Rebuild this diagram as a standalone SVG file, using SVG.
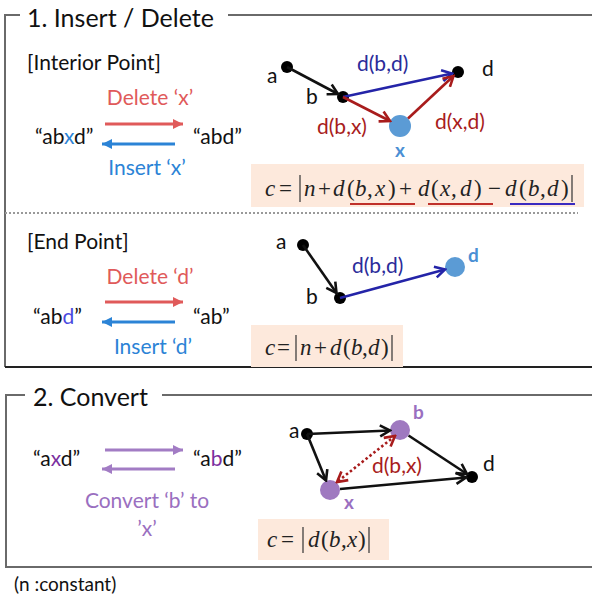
<svg xmlns="http://www.w3.org/2000/svg" width="592" height="600" viewBox="0 0 592 600">
  <style>
    .sans { font-family: Lato, "Open Sans", "Liberation Sans", sans-serif; }
    .title { font-size: 25px; fill: #111; }
    .sub { font-size: 21px; fill: #111; }
    .str { font-size: 21px; fill: #111; }
    .lbl { font-size: 21px; fill: #111; }
    .tag { font-size: 19px; font-weight: bold; }
    .math { font-family: "Liberation Serif", "Times New Roman", serif; font-size: 23px; fill: #222; }
    .it { font-style: italic; }
    .frame { fill: none; stroke: #6a6a6a; stroke-width: 2; }
    .edge { fill: none; stroke-width: 2.6; }
    .op { stroke-width: 3; }
    .peach { fill: #fde9dc; }
    .bar { stroke: #333; stroke-width: 1.2; }
  </style>
  <defs>
    <marker id="chev-black" viewBox="0 0 14 14" markerUnits="userSpaceOnUse" markerWidth="14" markerHeight="14" refX="12" refY="7" orient="auto">
      <path d="M2,1.5 L12,7 L2,12.5" fill="none" stroke="#111" stroke-width="2.6"/>
    </marker>
    <marker id="chev-blue" viewBox="0 0 14 14" markerUnits="userSpaceOnUse" markerWidth="14" markerHeight="14" refX="12" refY="7" orient="auto">
      <path d="M2,1.5 L12,7 L2,12.5" fill="none" stroke="#2424a8" stroke-width="2.6"/>
    </marker>
    <marker id="chev-red" viewBox="0 0 14 14" markerUnits="userSpaceOnUse" markerWidth="14" markerHeight="14" refX="12" refY="7" orient="auto-start-reverse">
      <path d="M2,1.5 L12,7 L2,12.5" fill="none" stroke="#a81c1c" stroke-width="2.6"/>
    </marker>
    <marker id="tri-red" viewBox="0 0 10 10" markerUnits="userSpaceOnUse" markerWidth="12" markerHeight="10" refX="10" refY="5" orient="auto">
      <path d="M0,0 L10,5 L0,10 Z" fill="#e05a5a"/>
    </marker>
    <marker id="tri-blue" viewBox="0 0 10 10" markerUnits="userSpaceOnUse" markerWidth="12" markerHeight="10" refX="10" refY="5" orient="auto">
      <path d="M0,0 L10,5 L0,10 Z" fill="#2b83d6"/>
    </marker>
    <marker id="tri-purple" viewBox="0 0 10 10" markerUnits="userSpaceOnUse" markerWidth="12" markerHeight="10" refX="10" refY="5" orient="auto">
      <path d="M0,0 L10,5 L0,10 Z" fill="#a27cc4"/>
    </marker>
  </defs>

  <!-- Section frames -->
  <g id="frame-1">
    <path class="frame" d="M20,15 L5,15 L5,367"/>
    <path class="frame" d="M228,15 L592,15"/>
    <path d="M5,367 L592,367" fill="none" stroke="#222" stroke-width="2"/>
    <text class="sans title" x="27" y="27">1. Insert / Delete</text>
  </g>
  <g id="frame-2">
    <path class="frame" d="M25,395 L6,395 L6,567 L592,567"/>
    <path class="frame" d="M162,395 L592,395"/>
    <text class="sans title" x="33" y="406">2. Convert</text>
  </g>

  <!-- Separator between interior and end point cases -->
  <line x1="5" y1="213" x2="578" y2="213" stroke="#999" stroke-width="2" stroke-dasharray="2,2"/>

  <!-- Interior point: string operations -->
  <g id="interior-ops">
    <text class="sans sub" x="27" y="70">[Interior Point]</text>
    <text class="sans lbl" x="150" y="105" text-anchor="middle" style="fill:#e05a5a">Delete ‘x’</text>
    <text class="sans str" x="35" y="144">“ab<tspan style="fill:#2b83d6">x</tspan>d”</text>
    <text class="sans str" x="193" y="144">“abd”</text>
    <text class="sans lbl" x="147" y="175" text-anchor="middle" style="fill:#2b83d6">Insert ‘x’</text>
  </g>

  <!-- End point: string operations -->
  <g id="end-ops">
    <text class="sans sub" x="27" y="249">[End Point]</text>
    <text class="sans lbl" x="150" y="284" text-anchor="middle" style="fill:#e05a5a">Delete ‘d’</text>
    <text class="sans str" x="33" y="324">“ab<tspan style="fill:#4a4ae0">d</tspan>”</text>
    <text class="sans str" x="193" y="324">“ab”</text>
    <text class="sans lbl" x="153" y="354" text-anchor="middle" style="fill:#2b83d6">Insert ‘d’</text>
  </g>

  <!-- Convert: string operations -->
  <g id="convert-ops">
    <text class="sans str" x="33" y="466">“a<tspan style="fill:#7b2fa0">x</tspan>d”</text>
    <text class="sans str" x="193" y="466">“a<tspan style="fill:#7b2fa0">b</tspan>d”</text>
    <text class="sans lbl" x="147" y="508" text-anchor="middle" style="fill:#9a6fc0">Convert ‘b’ to</text>
    <text class="sans lbl" x="147" y="536" text-anchor="middle" style="fill:#9a6fc0">’x’</text>
  </g>

  <!-- Graph nodes -->
  <g id="g1-a"><circle cx="287" cy="67" r="6" fill="#000"/><text class="sans lbl" x="267" y="83">a</text></g>
  <g id="g1-b"><circle cx="343" cy="97" r="6" fill="#000"/><text class="sans lbl" x="306" y="104">b</text></g>
  <g id="g1-d"><circle cx="458" cy="72" r="6" fill="#000"/><text class="sans lbl" x="482" y="76">d</text></g>
  <g id="g1-x"><circle cx="400" cy="126" r="11" fill="#5b9bd5"/><text class="sans tag" x="400" y="157" text-anchor="middle" style="fill:#4a8fd4">x</text></g>

  <g id="g2-a"><circle cx="303" cy="245" r="6" fill="#000"/><text class="sans lbl" x="276" y="249">a</text></g>
  <g id="g2-b"><circle cx="340" cy="298" r="6" fill="#000"/><text class="sans lbl" x="306" y="304">b</text></g>
  <g id="g2-d"><circle cx="455" cy="267" r="10" fill="#5b9bd5"/><text class="sans tag" x="468" y="262" style="fill:#4a8fd4">d</text></g>

  <g id="g3-a"><circle cx="307" cy="434" r="6" fill="#000"/><text class="sans lbl" x="289" y="438">a</text></g>
  <g id="g3-b"><circle cx="400" cy="430" r="10" fill="#9f79c0"/><text class="sans tag" x="413" y="419" style="fill:#9a6fc0">b</text></g>
  <g id="g3-d"><circle cx="472" cy="477" r="6" fill="#000"/><text class="sans lbl" x="483" y="471">d</text></g>
  <g id="g3-x"><circle cx="330" cy="490" r="10" fill="#9f79c0"/><text class="sans tag" x="344" y="509" style="fill:#9a6fc0">x</text></g>

  <!-- Connectors -->
  <g id="connectors">
    <line class="op" x1="105" y1="124" x2="183" y2="124" stroke="#e05a5a" marker-end="url(#tri-red)"/>
    <line class="op" x1="175" y1="144" x2="102" y2="144" stroke="#2b83d6" marker-end="url(#tri-blue)"/>
    <line class="op" x1="105" y1="302" x2="183" y2="302" stroke="#e05a5a" marker-end="url(#tri-red)"/>
    <line class="op" x1="175" y1="322" x2="102" y2="322" stroke="#2b83d6" marker-end="url(#tri-blue)"/>
    <line class="op" x1="105" y1="450" x2="183" y2="450" stroke="#a27cc4" marker-end="url(#tri-purple)"/>
    <line class="op" x1="175" y1="469" x2="102" y2="469" stroke="#a27cc4" marker-end="url(#tri-purple)"/>

    <line class="edge" x1="287" y1="67" x2="338" y2="94" stroke="#111" marker-end="url(#chev-black)"/>
    <line class="edge" x1="343" y1="97" x2="452" y2="73.5" stroke="#2424a8" marker-end="url(#chev-blue)"/>
    <line class="edge" x1="343" y1="97" x2="390" y2="121" stroke="#a81c1c" marker-end="url(#chev-red)"/>
    <line class="edge" x1="408" y1="118.5" x2="453.5" y2="76" stroke="#a81c1c" marker-end="url(#chev-red)"/>

    <line class="edge" x1="303" y1="245" x2="336.5" y2="293" stroke="#111" marker-end="url(#chev-black)"/>
    <line class="edge" x1="340" y1="298" x2="445" y2="269.5" stroke="#2424a8" marker-end="url(#chev-blue)"/>

    <line class="edge" x1="307" y1="434" x2="390" y2="430.5" stroke="#111" marker-end="url(#chev-black)"/>
    <line class="edge" x1="307" y1="434" x2="326" y2="480.5" stroke="#111" marker-end="url(#chev-black)"/>
    <line class="edge" x1="408.5" y1="435.5" x2="467" y2="474" stroke="#111" marker-end="url(#chev-black)"/>
    <line class="edge" x1="340" y1="489" x2="466" y2="477.5" stroke="#111" marker-end="url(#chev-black)"/>
    <line class="edge" x1="395" y1="436" x2="337" y2="482" stroke="#a81c1c" stroke-dasharray="2.5,2.5" marker-start="url(#chev-red)" marker-end="url(#chev-red)"/>
  </g>

  <!-- Edge labels -->
  <g id="edge-labels">
    <text class="sans lbl" x="357" y="71" style="fill:#2b2b9a">d(b,d)</text>
    <text class="sans lbl" x="317" y="134" style="fill:#a81c1c">d(b,x)</text>
    <text class="sans lbl" x="435" y="129" style="fill:#a81c1c">d(x,d)</text>
    <text class="sans lbl" x="352" y="273" style="fill:#2b2b9a">d(b,d)</text>
    <text class="sans lbl" x="372" y="473" style="fill:#a81c1c">d(b,x)</text>
  </g>

  <!-- Cost formulas -->
  <g id="formula-1">
    <rect class="peach" x="251" y="164" width="333" height="43"/>
    <text class="math" y="196"><tspan class="it" x="265">c</tspan><tspan x="279">=</tspan><tspan class="it" x="304">n</tspan><tspan x="318">+</tspan><tspan class="it" x="333">d</tspan><tspan x="347">(</tspan><tspan class="it" x="355">b</tspan><tspan x="367">,</tspan><tspan class="it" x="375">x</tspan><tspan x="388">)</tspan><tspan x="399">+</tspan><tspan class="it" x="418">d</tspan><tspan x="431">(</tspan><tspan class="it" x="440">x</tspan><tspan x="451">,</tspan><tspan class="it" x="460">d</tspan><tspan x="474">)</tspan><tspan x="488">−</tspan><tspan class="it" x="505">d</tspan><tspan x="519">(</tspan><tspan class="it" x="528">b</tspan><tspan x="540">,</tspan><tspan class="it" x="547">d</tspan><tspan x="561">)</tspan></text>
    <line class="bar" x1="300" y1="175" x2="300" y2="202"/>
    <line class="bar" x1="572" y1="175" x2="572" y2="202"/>
    <line x1="350" y1="204" x2="415" y2="204" stroke="#c0302a" stroke-width="2"/>
    <line x1="428" y1="204" x2="493" y2="204" stroke="#c0302a" stroke-width="2"/>
    <line x1="510" y1="204" x2="575" y2="204" stroke="#3a2ac0" stroke-width="2"/>
  </g>
  <g id="formula-2">
    <rect class="peach" x="251" y="325" width="152" height="42"/>
    <text class="math" y="355"><tspan class="it" x="265">c</tspan><tspan x="277">=</tspan><tspan class="it" x="300">n</tspan><tspan x="314">+</tspan><tspan class="it" x="330">d</tspan><tspan x="343">(</tspan><tspan class="it" x="351">b</tspan><tspan x="362">,</tspan><tspan class="it" x="368">d</tspan><tspan x="381">)</tspan></text>
    <line class="bar" x1="296" y1="335" x2="296" y2="361"/>
    <line class="bar" x1="392" y1="335" x2="392" y2="361"/>
  </g>
  <g id="formula-3">
    <rect class="peach" x="258" y="519" width="131" height="41"/>
    <text class="math" y="547"><tspan class="it" x="267">c</tspan><tspan x="281">=</tspan><tspan class="it" x="308">d</tspan><tspan x="321">(</tspan><tspan class="it" x="329">b</tspan><tspan x="341">,</tspan><tspan class="it" x="347">x</tspan><tspan x="358">)</tspan></text>
    <line class="bar" x1="303" y1="527" x2="303" y2="553"/>
    <line class="bar" x1="369" y1="527" x2="369" y2="553"/>
  </g>

  <text class="sans" x="14" y="591" font-size="19" fill="#111">(n :constant)</text>
</svg>
